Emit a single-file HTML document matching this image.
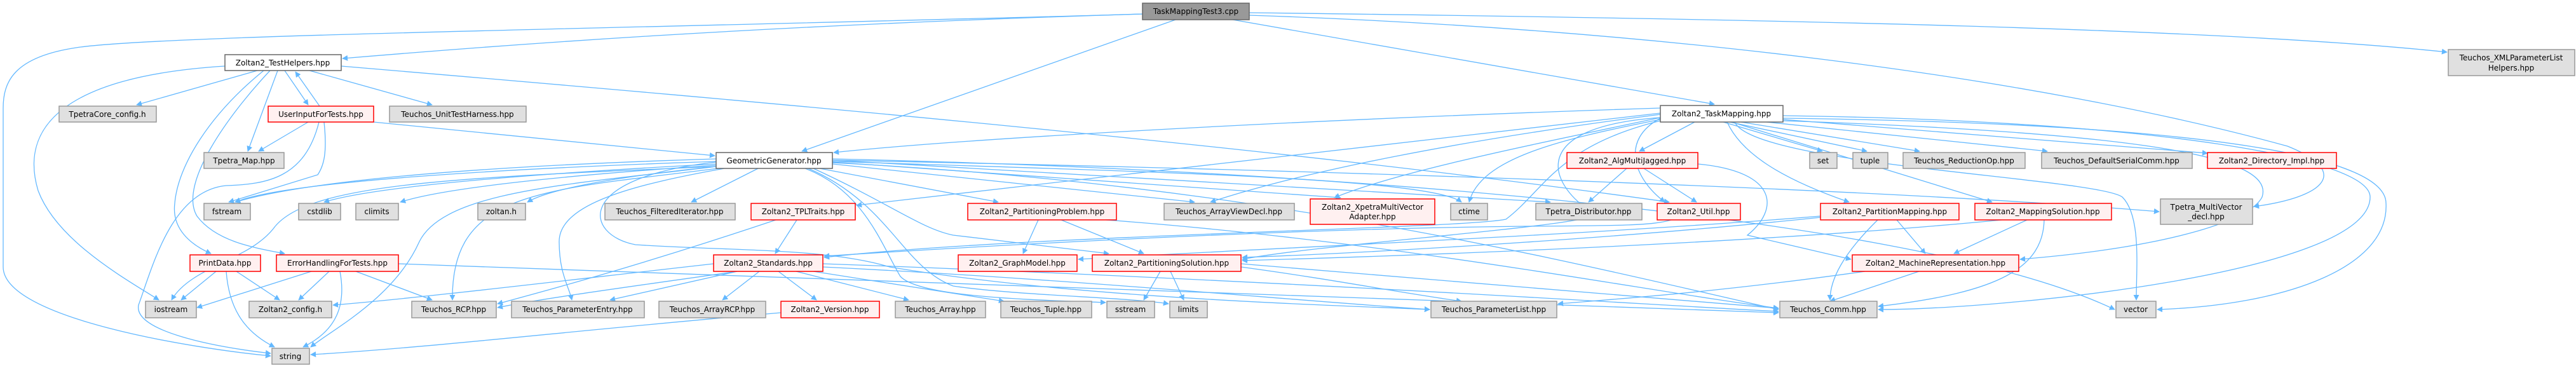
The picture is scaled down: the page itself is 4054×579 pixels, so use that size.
<!DOCTYPE html>
<html><head><meta charset="utf-8"><style>
html,body{margin:0;padding:0;background:#fff;}
svg{display:block;}
text{font-family:"DejaVu Sans","Liberation Sans",sans-serif;font-size:12px;fill:#000;}
.e{fill:none;stroke:#63b8ff;stroke-width:1.3;marker-end:url(#a);}
.g{fill:#e0e0e0;stroke:#999;stroke-width:1.5;}
.r{fill:#fff0f0;stroke:#f00;stroke-width:1.5;}
.w{fill:#fff;stroke:#666;stroke-width:1.5;}
.k{fill:#999;stroke:#666;stroke-width:1.5;}
</style></head><body>
<svg width="4054" height="579" viewBox="0 0 4054 579" xmlns="http://www.w3.org/2000/svg">
<defs><marker id="a" viewBox="0 0 10 10" refX="9" refY="5" markerWidth="9" markerHeight="9" markerUnits="userSpaceOnUse" orient="auto"><path d="M0,0 L10,5 L0,10 z" fill="#63b8ff"/></marker></defs>
<g>
<path class="e" d="M1800,22 C1000,45 250,55 120,75 C20,90 5,130 5,170 L5,420 C5,500 300,548 426,560"/>
<path class="e" d="M1798,22 C1200,40 800,70 539,92"/>
<path class="e" d="M1850,31 L1262,238"/>
<path class="e" d="M1940,31 L2698,164"/>
<path class="e" d="M1966,24 C2600,45 3200,120 3600,230 C3700,270 3660,310 3547,325"/>
<path class="e" d="M1966,20 C2800,30 3500,45 3851,82"/>
<path class="e" d="M405,111 L215,165"/>
<path class="e" d="M354,104 C100,120 30,200 60,300 C90,380 200,440 250,472"/>
<path class="e" d="M437,111 L390,238"/>
<path class="e" d="M448,111 L485,165"/>
<path class="e" d="M503,167 L465,113"/>
<path class="e" d="M487,111 L680,165"/>
<path class="e" d="M415,111 C330,180 280,260 275,320 C270,360 300,385 332,399"/>
<path class="e" d="M425,111 C360,180 280,290 310,340 C340,380 400,390 448,399"/>
<path class="e" d="M537,104 C1200,160 2000,230 2627,318"/>
<path class="e" d="M485,192 L407,238"/>
<path class="e" d="M510,192 C515,240 510,260 500,275 L360,318"/>
<path class="e" d="M502,192 C480,280 420,290 356,292 C270,300 240,420 218,480 C210,520 330,545 426,556"/>
<path class="e" d="M588,192 L1125,245"/>
<path class="e" d="M1127,250 C800,260 500,280 370,318"/>
<path class="e" d="M1127,254 C800,265 450,285 370,318"/>
<path class="e" d="M1127,258 C900,270 600,290 510,318"/>
<path class="e" d="M1127,260 C900,275 700,295 630,318"/>
<path class="e" d="M1127,262 C950,280 860,300 830,318"/>
<path class="e" d="M1127,262 C700,280 480,290 430,360 C390,410 300,420 270,472"/>
<path class="e" d="M1127,262 C900,290 700,300 660,380 C620,470 520,520 489,546"/>
<path class="e" d="M1130,265 C850,300 710,300 712,472"/>
<path class="e" d="M1140,265 C1000,290 880,320 880,380 C880,430 895,450 900,472"/>
<path class="e" d="M1193,265 L1088,318"/>
<path class="e" d="M1290,265 L1571,318"/>
<path class="e" d="M1127,255 C900,280 920,370 1000,385 C1150,395 1300,390 1400,420 C1700,470 2100,480 2250,487"/>
<path class="e" d="M1310,258 L1880,318"/>
<path class="e" d="M1310,255 L2110,311"/>
<path class="e" d="M1310,254 C1800,270 2250,280 2300,318"/>
<path class="e" d="M1310,252 L2440,318"/>
<path class="e" d="M1310,256 C2000,290 2500,420 2799,487"/>
<path class="e" d="M1267,265 C1360,300 1388,387 1417,435 C1450,470 1650,472 1740,476"/>
<path class="e" d="M1272,265 C1400,320 1420,420 1500,450 C1600,465 1780,468 1839,478"/>
<path class="e" d="M1280,265 C1400,320 1450,360 1500,370 L1745,399"/>
<path class="e" d="M1310,252 C2200,270 3000,300 3398,333"/>
<path class="e" d="M1310,250 C2000,265 3000,330 3328,487"/>
<path class="e" d="M2613,170 C2000,190 1500,220 1312,240"/>
<path class="e" d="M2667,192 L2580,238"/>
<path class="e" d="M2712,192 L2868,238"/>
<path class="e" d="M2722,192 L2938,238"/>
<path class="e" d="M2740,192 L3021,238"/>
<path class="e" d="M2780,192 L3222,238"/>
<path class="e" d="M2806,188 L3474,241"/>
<path class="e" d="M2718,192 C2740,240 2800,280 2910,318"/>
<path class="e" d="M2725,192 L3135,318"/>
<path class="e" d="M2806,190 C3400,210 3580,250 3560,310 C3540,350 3400,390 3179,408"/>
<path class="e" d="M2730,192 C2760,260 3300,280 3340,310 C3370,340 3362,420 3362,472"/>
<path class="e" d="M2806,182 C3400,190 3730,250 3730,310 C3730,430 3150,487 2956,487"/>
<path class="e" d="M2806,186 C3500,195 3755,250 3755,320 C3760,420 3600,480 3395,487"/>
<path class="e" d="M2613,185 C2400,230 2200,270 2100,311"/>
<path class="e" d="M2613,180 C2300,220 2050,270 1905,318"/>
<path class="e" d="M2613,188 C2450,220 2330,250 2312,318"/>
<path class="e" d="M2613,178 L1348,323"/>
<path class="e" d="M2613,190 C2450,230 2430,300 2370,345 C2300,360 1600,370 1297,405"/>
<path class="e" d="M2613,185 C2400,200 2440,290 2500,330 C2600,350 2100,380 1955,408"/>
<path class="e" d="M2613,186 C2550,220 2570,280 2620,318"/>
<path class="e" d="M2560,265 L2500,318"/>
<path class="e" d="M2587,265 L2670,318"/>
<path class="e" d="M2672,258 C2800,270 2800,330 2750,370 L2913,408"/>
<path class="e" d="M1254,346 L1220,399"/>
<path class="e" d="M1221,346 C1000,420 850,460 783,478"/>
<path class="e" d="M1634,346 L1610,399"/>
<path class="e" d="M1670,346 L1800,399"/>
<path class="e" d="M1741,346 C2200,380 2600,460 2799,485"/>
<path class="e" d="M2630,346 C2600,355 2550,355 2400,356 C2000,360 1500,390 1297,403"/>
<path class="e" d="M1123,415 C900,440 650,470 524,480"/>
<path class="e" d="M1160,427 C1000,450 850,470 783,484"/>
<path class="e" d="M1160,427 L960,472"/>
<path class="e" d="M1195,427 L1137,472"/>
<path class="e" d="M1225,427 L1285,472"/>
<path class="e" d="M1253,427 L1430,472"/>
<path class="e" d="M1280,427 L1580,474"/>
<path class="e" d="M1295,420 C1700,440 2000,470 2250,487"/>
<path class="e" d="M1295,415 C2000,440 2600,480 2799,490"/>
<path class="e" d="M1229,492 C900,520 700,545 489,558"/>
<path class="e" d="M1826,427 L1800,472"/>
<path class="e" d="M1842,427 L1863,472"/>
<path class="e" d="M1953,420 C2100,440 2200,460 2300,474"/>
<path class="e" d="M1953,415 L2799,485"/>
<path class="e" d="M2865,340 C2500,370 2000,390 1697,408"/>
<path class="e" d="M3020,427 L2880,474"/>
<path class="e" d="M2935,427 C2700,460 2550,470 2452,478"/>
<path class="e" d="M2955,346 C2900,400 2880,440 2880,472"/>
<path class="e" d="M2985,346 L3030,399"/>
<path class="e" d="M2865,342 C2500,380 2100,400 1955,405"/>
<path class="e" d="M3190,346 L3075,399"/>
<path class="e" d="M3217,346 C3215,420 3150,460 2956,482"/>
<path class="e" d="M3150,346 C2800,380 2300,400 1955,410"/>
<path class="e" d="M490,427 L310,484"/>
<path class="e" d="M518,427 L470,472"/>
<path class="e" d="M535,427 C545,480 530,520 477,546"/>
<path class="e" d="M560,427 L680,472"/>
<path class="e" d="M627,415 C1500,440 2300,480 2799,492"/>
<path class="e" d="M340,427 L285,472"/>
<path class="e" d="M372,427 L440,472"/>
<path class="e" d="M356,427 C360,480 380,520 432,546"/>
</g>
<g>
<rect class="k" x="1798" y="5" width="168" height="26"/><text x="1882" y="22" text-anchor="middle">TaskMappingTest3.cpp</text>
<rect class="g" x="3853" y="78" width="199" height="41"/><text x="3952" y="95" text-anchor="middle">Teuchos_XMLParameterList</text><text x="3952" y="111" text-anchor="middle">Helpers.hpp</text>
<rect class="w" x="354" y="86" width="183" height="25"/><text x="445" y="103" text-anchor="middle">Zoltan2_TestHelpers.hpp</text>
<rect class="w" x="2613" y="166" width="193" height="26"/><text x="2709" y="183" text-anchor="middle">Zoltan2_TaskMapping.hpp</text>
<rect class="g" x="93" y="167" width="153" height="25"/><text x="169" y="184" text-anchor="middle">TpetraCore_config.h</text>
<rect class="r" x="422" y="167" width="166" height="25"/><text x="505" y="184" text-anchor="middle">UserInputForTests.hpp</text>
<rect class="g" x="613" y="167" width="215" height="25"/><text x="720" y="184" text-anchor="middle">Teuchos_UnitTestHarness.hpp</text>
<rect class="g" x="321" y="240" width="126" height="25"/><text x="384" y="257" text-anchor="middle">Tpetra_Map.hpp</text>
<rect class="w" x="1127" y="240" width="183" height="25"/><text x="1218" y="257" text-anchor="middle">GeometricGenerator.hpp</text>
<rect class="r" x="2466" y="240" width="206" height="25"/><text x="2569" y="257" text-anchor="middle">Zoltan2_AlgMultiJagged.hpp</text>
<rect class="g" x="2848" y="240" width="43" height="25"/><text x="2869" y="257" text-anchor="middle">set</text>
<rect class="g" x="2916" y="240" width="55" height="25"/><text x="2943" y="257" text-anchor="middle">tuple</text>
<rect class="g" x="2995" y="240" width="192" height="25"/><text x="3091" y="257" text-anchor="middle">Teuchos_ReductionOp.hpp</text>
<rect class="g" x="3213" y="240" width="237" height="25"/><text x="3331" y="257" text-anchor="middle">Teuchos_DefaultSerialComm.hpp</text>
<rect class="r" x="3474" y="240" width="203" height="25"/><text x="3575" y="257" text-anchor="middle">Zoltan2_Directory_Impl.hpp</text>
<rect class="g" x="321" y="320" width="73" height="26"/><text x="357" y="337" text-anchor="middle">fstream</text>
<rect class="g" x="470" y="320" width="66" height="26"/><text x="503" y="337" text-anchor="middle">cstdlib</text>
<rect class="g" x="560" y="320" width="67" height="26"/><text x="593" y="337" text-anchor="middle">climits</text>
<rect class="g" x="752" y="320" width="75" height="26"/><text x="789" y="337" text-anchor="middle">zoltan.h</text>
<rect class="g" x="952" y="320" width="205" height="26"/><text x="1054" y="337" text-anchor="middle">Teuchos_FilteredIterator.hpp</text>
<rect class="r" x="1182" y="320" width="164" height="26"/><text x="1264" y="337" text-anchor="middle">Zoltan2_TPLTraits.hpp</text>
<rect class="r" x="1523" y="320" width="234" height="26"/><text x="1640" y="337" text-anchor="middle">Zoltan2_PartitioningProblem.hpp</text>
<rect class="g" x="1832" y="320" width="205" height="26"/><text x="1934" y="337" text-anchor="middle">Teuchos_ArrayViewDecl.hpp</text>
<rect class="r" x="2062" y="313" width="196" height="40"/><text x="2160" y="330" text-anchor="middle">Zoltan2_XpetraMultiVector</text><text x="2160" y="345" text-anchor="middle">Adapter.hpp</text>
<rect class="g" x="2283" y="320" width="58" height="26"/><text x="2312" y="337" text-anchor="middle">ctime</text>
<rect class="g" x="2417" y="320" width="167" height="26"/><text x="2500" y="337" text-anchor="middle">Tpetra_Distributor.hpp</text>
<rect class="r" x="2608" y="320" width="131" height="26"/><text x="2673" y="337" text-anchor="middle">Zoltan2_Util.hpp</text>
<rect class="r" x="2865" y="320" width="218" height="26"/><text x="2974" y="337" text-anchor="middle">Zoltan2_PartitionMapping.hpp</text>
<rect class="r" x="3108" y="320" width="215" height="26"/><text x="3215" y="337" text-anchor="middle">Zoltan2_MappingSolution.hpp</text>
<rect class="g" x="3400" y="313" width="145" height="40"/><text x="3472" y="330" text-anchor="middle">Tpetra_MultiVector</text><text x="3472" y="345" text-anchor="middle">_decl.hpp</text>
<rect class="r" x="299" y="401" width="111" height="26"/><text x="354" y="418" text-anchor="middle">PrintData.hpp</text>
<rect class="r" x="435" y="401" width="192" height="26"/><text x="531" y="418" text-anchor="middle">ErrorHandlingForTests.hpp</text>
<rect class="r" x="1123" y="401" width="172" height="26"/><text x="1209" y="418" text-anchor="middle">Zoltan2_Standards.hpp</text>
<rect class="r" x="1508" y="401" width="187" height="26"/><text x="1601" y="418" text-anchor="middle">Zoltan2_GraphModel.hpp</text>
<rect class="r" x="1719" y="401" width="234" height="26"/><text x="1836" y="418" text-anchor="middle">Zoltan2_PartitioningSolution.hpp</text>
<rect class="r" x="2915" y="401" width="262" height="26"/><text x="3046" y="418" text-anchor="middle">Zoltan2_MachineRepresentation.hpp</text>
<rect class="g" x="229" y="474" width="80" height="26"/><text x="269" y="491" text-anchor="middle">iostream</text>
<rect class="g" x="392" y="474" width="130" height="26"/><text x="457" y="491" text-anchor="middle">Zoltan2_config.h</text>
<rect class="g" x="648" y="474" width="133" height="26"/><text x="714" y="491" text-anchor="middle">Teuchos_RCP.hpp</text>
<rect class="g" x="805" y="474" width="209" height="26"/><text x="909" y="491" text-anchor="middle">Teuchos_ParameterEntry.hpp</text>
<rect class="g" x="1037" y="474" width="168" height="26"/><text x="1121" y="491" text-anchor="middle">Teuchos_ArrayRCP.hpp</text>
<rect class="r" x="1229" y="474" width="155" height="26"/><text x="1306" y="491" text-anchor="middle">Zoltan2_Version.hpp</text>
<rect class="g" x="1409" y="474" width="142" height="26"/><text x="1480" y="491" text-anchor="middle">Teuchos_Array.hpp</text>
<rect class="g" x="1575" y="474" width="143" height="26"/><text x="1646" y="491" text-anchor="middle">Teuchos_Tuple.hpp</text>
<rect class="g" x="1742" y="474" width="75" height="26"/><text x="1779" y="491" text-anchor="middle">sstream</text>
<rect class="g" x="1841" y="474" width="59" height="26"/><text x="1870" y="491" text-anchor="middle">limits</text>
<rect class="g" x="2252" y="474" width="198" height="26"/><text x="2351" y="491" text-anchor="middle">Teuchos_ParameterList.hpp</text>
<rect class="g" x="2801" y="474" width="153" height="26"/><text x="2877" y="491" text-anchor="middle">Teuchos_Comm.hpp</text>
<rect class="g" x="3330" y="474" width="63" height="26"/><text x="3361" y="491" text-anchor="middle">vector</text>
<rect class="g" x="428" y="548" width="59" height="25"/><text x="457" y="565" text-anchor="middle">string</text>
</g>
</svg>
</body></html>
